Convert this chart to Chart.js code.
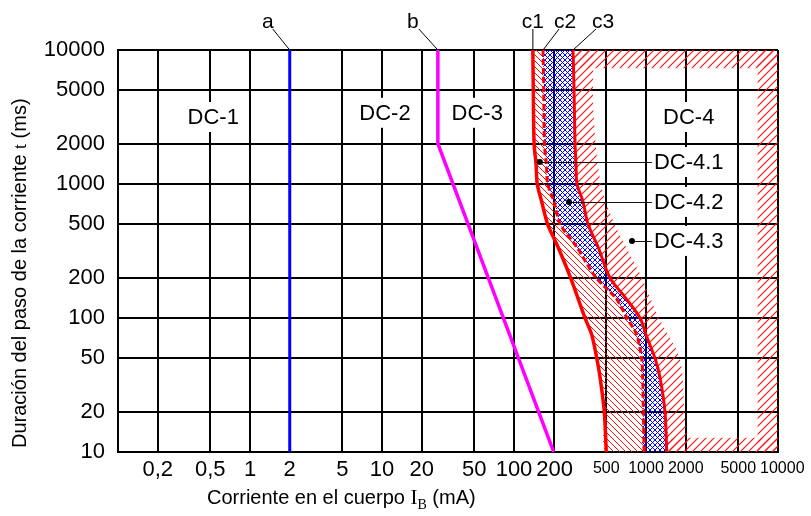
<!DOCTYPE html>
<html>
<head>
<meta charset="utf-8">
<script src="https://cdn.jsdelivr.net/npm/chart.js@4.4.0/dist/chart.umd.min.js"></script>
<style>
html, body { margin: 0; padding: 0; background: #fff; }
#wrap { width: 811px; height: 516px; position: relative; }
</style>
</head>
<body>
<div id="wrap"><canvas id="myChart"></canvas></div>
<script>
// ejes: corriente (mA) en x, duracion (ms) en y, ambos logaritmicos
const xTicks = [0.1, 0.2, 0.5, 1, 2, 5, 10, 20, 50, 100, 200, 500, 1000, 2000, 5000, 10000];
const xTickLabels = ["", "0,2", "0,5", "1", "2", "5", "10", "20", "50", "100", "200", "500", "1000", "2000", "5000", "10000"];
const yTicks = [10, 20, 50, 100, 200, 500, 1000, 2000, 5000, 10000];

// curva a
const aCurrent = [2, 2];
const aTime = [10, 10000];

// curva b
const bCurrent = [26.5, 26.5, 200];
const bTime = [10000, 2000, 10];

// curva c1
const c1Time = [10000, 5000, 2000, 1400, 1000, 740, 500, 340, 200, 100, 75, 50, 36, 20, 10];
const c1Current = [139, 140, 142, 147, 150, 162, 180, 215, 268, 345, 388, 424, 449, 483, 500];

// curva c2
const c2Time = [10000, 5000, 2000, 1400, 1000, 740, 500, 340, 200, 140, 100, 75, 50, 36, 20, 10];
const c2Current = [166, 168, 170, 176, 180, 201, 224, 298, 418, 593, 718, 849, 927, 944, 955, 970];

// curva c3
const c3Time = [10000, 5000, 2000, 1400, 1000, 740, 500, 340, 200, 140, 100, 75, 50, 36, 20, 10];
const c3Current = [280, 285, 290, 295, 300, 333, 364, 433, 533, 705, 902, 1000, 1170, 1276, 1393, 1435];

// borde exterior de la franja rayada DC-4.3
const bandTime = [10000, 3400, 1000, 500, 200, 100, 50, 20, 10];
const bandCurrent = [400, 400, 455, 580, 930, 1250, 1800, 1950, 2000];

// marco rayado de la zona DC-4
const frameTopTime = 7300;
const frameRightCurrent = 7000;
const frameBottomTime = 12.8;

const pts = (xs, ys) => xs.map((x, i) => ({ x: x, y: ys[i] }));
const rev = arr => arr.slice().reverse();

const canvas = document.getElementById("myChart");
const g2d = canvas.getContext("2d");

function makeHatch(color, kind, size, lw) {
    const tile = document.createElement("canvas");
    tile.width = size;
    tile.height = size;
    const t = tile.getContext("2d");
    t.strokeStyle = color;
    t.lineWidth = lw;
    t.beginPath();
    if (kind === "/" || kind === "x") {
        t.moveTo(0, size); t.lineTo(size, 0);
        t.moveTo(-size / 2, size / 2); t.lineTo(size / 2, -size / 2);
        t.moveTo(size / 2, size * 1.5); t.lineTo(size * 1.5, size / 2);
    }
    if (kind === "\\" || kind === "x") {
        t.moveTo(0, 0); t.lineTo(size, size);
        t.moveTo(-size / 2, size / 2); t.lineTo(size / 2, size * 1.5);
        t.moveTo(size / 2, -size / 2); t.lineTo(size * 1.5, size / 2);
    }
    t.stroke();
    return g2d.createPattern(tile, "repeat");
}

const hatchFwd = makeHatch("#ff1010", "/", 8, 1.1);
const hatchBack = makeHatch("#ff1010", "\\", 6, 1);
const crossBlue = makeHatch("#0000ff", "x", 5, 1);

const lineDs = (label, xs, ys, color, width, dash, tension) => ({
    label: label,
    data: pts(xs, ys),
    showLine: true,
    borderColor: color,
    borderWidth: width,
    borderDash: dash || [],
    pointRadius: 0,
    fill: false,
    tension: tension || 0,
});

const areaDs = (label, poly, pattern, tension) => ({
    label: label,
    data: poly,
    showLine: true,
    borderWidth: 0,
    borderColor: "rgba(0,0,0,0)",
    backgroundColor: pattern,
    pointRadius: 0,
    fill: "shape",
    tension: tension || 0,
});

const x0 = xTicks[0], x1 = xTicks[xTicks.length - 1];
const y0 = yTicks[0], y1 = yTicks[yTicks.length - 1];

// etiquetas de las zonas (posicion en coordenadas de datos)
const zoneLabels = [
    { text: "DC-1", x: 0.5, y: 3162 },
    { text: "DC-2", x: 10, y: 3400 },
    { text: "DC-3", x: 50, y: 3400 },
    { text: "DC-4", x: 2000, y: 3162 },
    { text: "DC-4.1", x: 2000, y: 1459, dot: { x: 157, y: 1459 } },
    { text: "DC-4.2", x: 2000, y: 735, dot: { x: 261, y: 735 } },
    { text: "DC-4.3", x: 2000, y: 376, dot: { x: 783, y: 376 } },
];

const SANS = "'Liberation Sans', Arial, sans-serif";
const SERIF = "'Liberation Serif', 'Times New Roman', serif";

const annotations = {
    id: "annotations",
    afterDraw(chart) {
        const ctx = chart.ctx;
        const xs = chart.scales.x, ys = chart.scales.y;
        const area = chart.chartArea;
        ctx.save();

        // etiquetas del eje x (las grandes hasta 200, pequenas desde 500)
        ctx.fillStyle = "#000";
        ctx.textAlign = "left";
        ctx.textBaseline = "middle";
        let prevRight = -Infinity;
        xTicks.forEach((v, i) => {
            const txt = xTickLabels[i];
            if (!txt) return;
            const small = v >= 500;
            ctx.font = (small ? 16 : 22) + "px " + SANS;
            const w = ctx.measureText(txt).width;
            let left = xs.getPixelForValue(v) - w / 2;
            if (left < prevRight + 4) left = prevRight + 4;
            ctx.fillText(txt, left, area.bottom + (small ? 17 : 18));
            prevRight = left + w;
        });

        // nombres de las curvas encima del grafico
        ctx.font = "21px " + SANS;
        ctx.strokeStyle = "#000";
        ctx.lineWidth = 1;
        ctx.textAlign = "center";
        ctx.textBaseline = "alphabetic";
        const curveTags = [
            { t: "a", v: aCurrent[1], dx: -22, lx: -17 },
            { t: "b", v: bCurrent[0], dx: -25, lx: -19 },
            { t: "c1", v: c1Current[0], dx: 0, lx: 0 },
            { t: "c2", v: c2Current[0], dx: 22, lx: 16 },
            { t: "c3", v: c3Current[0], dx: 30, lx: 23 },
        ];
        curveTags.forEach(c => {
            const px = xs.getPixelForValue(c.v);
            ctx.beginPath();
            ctx.moveTo(px + c.lx, area.top - 21);
            ctx.lineTo(px, area.top);
            ctx.stroke();
            ctx.fillText(c.t, px + c.dx, area.top - 22);
        });

        // etiquetas de zona con fondo blanco
        ctx.font = "22px " + SANS;
        ctx.textBaseline = "middle";
        zoneLabels.forEach(z => {
            const px = xs.getPixelForValue(z.x) + 3;
            const py = ys.getPixelForValue(z.y);
            const w = ctx.measureText(z.text).width;
            ctx.fillStyle = "#fff";
            ctx.fillRect(px - w / 2 - 2, py - 15, w + 4, 30);
            if (z.dot) {
                const dx = xs.getPixelForValue(z.dot.x);
                const dy = ys.getPixelForValue(z.dot.y);
                ctx.strokeStyle = "#111";
                ctx.lineWidth = 1;
                ctx.beginPath();
                ctx.moveTo(dx, Math.round(dy) + 0.5);
                ctx.lineTo(px - w / 2 - 2, Math.round(dy) + 0.5);
                ctx.stroke();
                ctx.fillStyle = "#000";
                ctx.beginPath();
                ctx.arc(dx, dy, 3, 0, Math.PI * 2);
                ctx.fill();
            }
            ctx.fillStyle = "#000";
            ctx.fillText(z.text, px, py + 1);
        });

        // titulo eje x
        ctx.textAlign = "left";
        ctx.textBaseline = "alphabetic";
        let x = 207;
        const by = 504;
        const parts = [
            { s: "Corriente en el cuerpo ", f: "20px " + SANS, o: 0 },
            { s: "I", f: "21px " + SERIF, o: 0 },
            { s: "B", f: "14px " + SERIF, o: 5 },
            { s: " (mA)", f: "20px " + SANS, o: 0 },
        ];
        parts.forEach(p => {
            ctx.font = p.f;
            ctx.fillText(p.s, x, by + p.o);
            x += ctx.measureText(p.s).width;
        });

        // titulo eje y
        ctx.translate(26, 448);
        ctx.rotate(-Math.PI / 2);
        x = 0;
        const yparts = [
            { s: "Duración del paso de la corriente ", f: "20px " + SANS },
            { s: "t", f: "18px " + SERIF },
            { s: " (ms)", f: "20px " + SANS },
        ];
        yparts.forEach(p => {
            ctx.font = p.f;
            ctx.fillText(p.s, x, 0);
            x += ctx.measureText(p.s).width;
        });
        ctx.restore();
    },
};

new Chart(canvas, {
    type: "scatter",
    data: {
        datasets: [
            lineDs("a", aCurrent, aTime, "#0000ff", 3),
            lineDs("b", bCurrent, bTime, "#ff00ff", 3.5),
            lineDs("c1", c1Current, c1Time, "#ff0000", 3.5, [], 0.3),
            lineDs("c2", c2Current, c2Time, "#ff0000", 3, [6, 3], 0.3),
            lineDs("c3", c3Current, c3Time, "#ff0000", 3, [], 0.3),
            areaDs("DC-4.2", pts(c2Current, c2Time).concat(rev(pts(c3Current, c3Time))), crossBlue, 0.3),
            areaDs("DC-4.1", pts(c1Current, c1Time).concat(rev(pts(c2Current, c2Time))), hatchBack, 0.3),
            areaDs("DC-4.3", pts(c3Current, c3Time).concat(rev(pts(bandCurrent, bandTime))), hatchFwd, 0.3),
            areaDs("DC-4.3 arriba", pts([c3Current[0], x1, x1, c3Current[0]], [y1, y1, frameTopTime, frameTopTime]), hatchFwd),
            areaDs("DC-4.3 derecha", pts([frameRightCurrent, x1, x1, frameRightCurrent], [y1, y1, y0, y0]), hatchFwd),
            areaDs("DC-4.3 abajo", pts([c3Current[c3Current.length - 1], x1, x1, c3Current[c3Current.length - 1]], [y0, y0, frameBottomTime, frameBottomTime]), hatchFwd),
        ],
    },
    options: {
        responsive: true,
        maintainAspectRatio: false,
        animation: false,
        layout: { padding: { top: 50, right: 33, bottom: 0, left: 0 } },
        plugins: {
            legend: { display: false },
            tooltip: { enabled: false },
        },
        scales: {
            x: {
                type: "logarithmic",
                min: x0,
                max: x1,
                afterBuildTicks: s => { s.ticks = xTicks.map(v => ({ value: v })); },
                afterFit: s => { s.height = 64; },
                grid: { color: "#000", lineWidth: 2, drawTicks: false },
                border: { color: "#000", width: 2 },
                ticks: { display: false, autoSkip: false, maxRotation: 0 },
            },
            y: {
                type: "logarithmic",
                min: y0,
                max: y1,
                afterBuildTicks: s => { s.ticks = yTicks.map(v => ({ value: v })); },
                afterFit: s => { s.width = 118; },
                grid: { color: "#000", lineWidth: 2, drawTicks: false },
                border: { color: "#000", width: 2 },
                ticks: {
                    autoSkip: false,
                    padding: 13,
                    color: "#000",
                    font: { family: SANS, size: 22 },
                    callback: v => String(v),
                },
            },
        },
    },
    plugins: [annotations],
});
</script>
</body>
</html>
